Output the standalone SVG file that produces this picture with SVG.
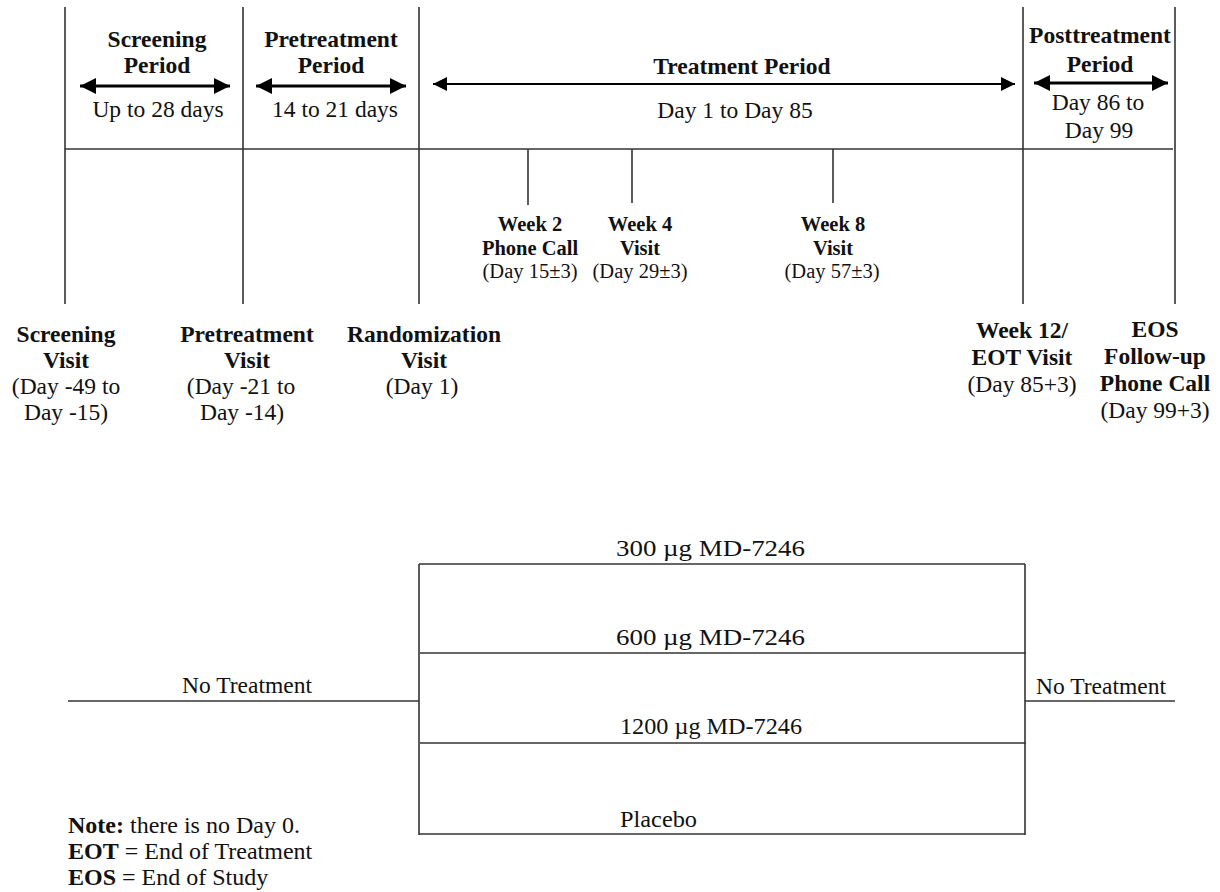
<svg xmlns="http://www.w3.org/2000/svg" width="1220" height="892" viewBox="0 0 1220 892">
<defs>
<style>
text{font-family:"Liberation Serif","Times New Roman",serif;fill:#111;text-anchor:middle}
.m{font-size:23.5px}
.b{font-weight:bold}
.s{font-size:20.5px}
.n{font-size:24px;text-anchor:start}
.l{stroke:#333;stroke-width:1.6;fill:none}
.a{stroke:#000;stroke-width:3.2;fill:none}
.a2{stroke:#000;stroke-width:2.2;fill:none}
</style>
<marker id="ah" viewBox="0 0 10 10" refX="10" refY="5" markerWidth="5" markerHeight="5" markerUnits="strokeWidth" orient="auto-start-reverse">
<path d="M0,0 L10,5 L0,10 z" fill="#000"/>
</marker>
<marker id="ah2" viewBox="0 0 10 10" refX="10" refY="5" markerWidth="6.5" markerHeight="6.5" markerUnits="strokeWidth" orient="auto-start-reverse">
<path d="M0,0 L10,5 L0,10 z" fill="#000"/>
</marker>
</defs>
<rect width="1220" height="892" fill="#fff"/>
<g id="connectors">
<line class="l" x1="65" y1="7" x2="65" y2="304"/>
<line class="l" x1="243" y1="7" x2="243" y2="304"/>
<line class="l" x1="419" y1="7" x2="419" y2="304"/>
<line class="l" x1="1023" y1="7" x2="1023" y2="304"/>
<line class="l" x1="1175" y1="7" x2="1175" y2="304"/>
<line class="l" x1="65" y1="149" x2="1173" y2="149"/>
<line class="l" x1="528" y1="149" x2="528" y2="205"/>
<line class="l" x1="632" y1="149" x2="632" y2="203"/>
<line class="l" x1="833" y1="149" x2="833" y2="203"/>
<line class="a" x1="80" y1="86" x2="230" y2="86" marker-start="url(#ah)" marker-end="url(#ah)"/>
<line class="a" x1="256" y1="86" x2="406" y2="86" marker-start="url(#ah)" marker-end="url(#ah)"/>
<line class="a2" x1="433" y1="84" x2="1015" y2="84" marker-start="url(#ah2)" marker-end="url(#ah2)"/>
<line class="a" x1="1034" y1="83" x2="1168" y2="83" marker-start="url(#ah)" marker-end="url(#ah)"/>
<line class="l" x1="68" y1="701" x2="419" y2="701"/>
<line class="l" x1="419" y1="564" x2="419" y2="835"/>
<line class="l" x1="419" y1="564" x2="1025" y2="564"/>
<line class="l" x1="420" y1="653" x2="1026" y2="653"/>
<line class="l" x1="420" y1="743" x2="1026" y2="743"/>
<line class="l" x1="419" y1="834" x2="1025" y2="834"/>
<line class="l" x1="1025" y1="564" x2="1025" y2="835"/>
<line class="l" x1="1025" y1="701" x2="1175" y2="701"/>
</g>
<g id="screening-period">
<text class="m b" x="157" y="47">Screening</text>
<text class="m b" x="157" y="73">Period</text>
<text class="m" x="158" y="117">Up to 28 days</text>
</g>
<g id="pretreatment-period">
<text class="m b" x="331" y="47">Pretreatment</text>
<text class="m b" x="331" y="73">Period</text>
<text class="m" x="335" y="117">14 to 21 days</text>
</g>
<g id="treatment-period">
<text class="m b" x="742" y="74">Treatment Period</text>
<text class="m" x="735" y="118">Day 1 to Day 85</text>
</g>
<g id="posttreatment-period">
<text class="m b" x="1100" y="43">Posttreatment</text>
<text class="m b" x="1100" y="72">Period</text>
<text class="m" x="1098" y="110">Day 86 to</text>
<text class="m" x="1099" y="138">Day 99</text>
</g>
<g id="week2">
<text class="s b" x="530" y="231">Week 2</text>
<text class="s b" x="530" y="255">Phone Call</text>
<text class="s" x="530" y="278">(Day 15±3)</text>
</g>
<g id="week4">
<text class="s b" x="640" y="231">Week 4</text>
<text class="s b" x="640" y="255">Visit</text>
<text class="s" x="640" y="278">(Day 29±3)</text>
</g>
<g id="week8">
<text class="s b" x="833" y="231">Week 8</text>
<text class="s b" x="833" y="255">Visit</text>
<text class="s" x="832" y="278">(Day 57±3)</text>
</g>
<g id="screening-visit">
<text class="m b" x="66" y="342">Screening</text>
<text class="m b" x="66" y="368">Visit</text>
<text class="m" x="66" y="394">(Day -49 to</text>
<text class="m" x="66" y="420">Day -15)</text>
</g>
<g id="pretreatment-visit">
<text class="m b" x="247" y="342">Pretreatment</text>
<text class="m b" x="247" y="368">Visit</text>
<text class="m" x="241" y="394">(Day -21 to</text>
<text class="m" x="242" y="420">Day -14)</text>
</g>
<g id="randomization-visit">
<text class="m b" x="424" y="342">Randomization</text>
<text class="m b" x="424" y="368">Visit</text>
<text class="m" x="422" y="394">(Day 1)</text>
</g>
<g id="week12-visit">
<text class="m b" x="1022" y="338">Week 12/</text>
<text class="m b" x="1022" y="365">EOT Visit</text>
<text class="m" x="1022" y="392">(Day 85+3)</text>
</g>
<g id="eos-visit">
<text class="m b" x="1155" y="337">EOS</text>
<text class="m b" x="1155" y="364">Follow-up</text>
<text class="m b" x="1155" y="391">Phone Call</text>
<text class="m" x="1155" y="418">(Day 99+3)</text>
</g>
<g id="arms">
<text class="m" x="710.5" y="556" textLength="189" lengthAdjust="spacingAndGlyphs">300 µg MD-7246</text>
<text class="m" x="710.5" y="645" textLength="189" lengthAdjust="spacingAndGlyphs">600 µg MD-7246</text>
<text class="m" x="711" y="734" textLength="182" lengthAdjust="spacingAndGlyphs">1200 µg MD-7246</text>
<text class="m" x="658.5" y="827" textLength="77" lengthAdjust="spacingAndGlyphs">Placebo</text>
</g>
<g id="no-treatment-left">
<text class="m" x="247" y="693">No Treatment</text>
</g>
<g id="no-treatment-right">
<text class="m" x="1101" y="694">No Treatment</text>
</g>
<g id="notes">
<text class="n" x="68" y="833"><tspan class="b">Note:</tspan> there is no Day 0.</text>
<text class="n" x="68" y="859"><tspan class="b">EOT</tspan> = End of Treatment</text>
<text class="n" x="68" y="885"><tspan class="b">EOS</tspan> = End of Study</text>
</g>
</svg>
